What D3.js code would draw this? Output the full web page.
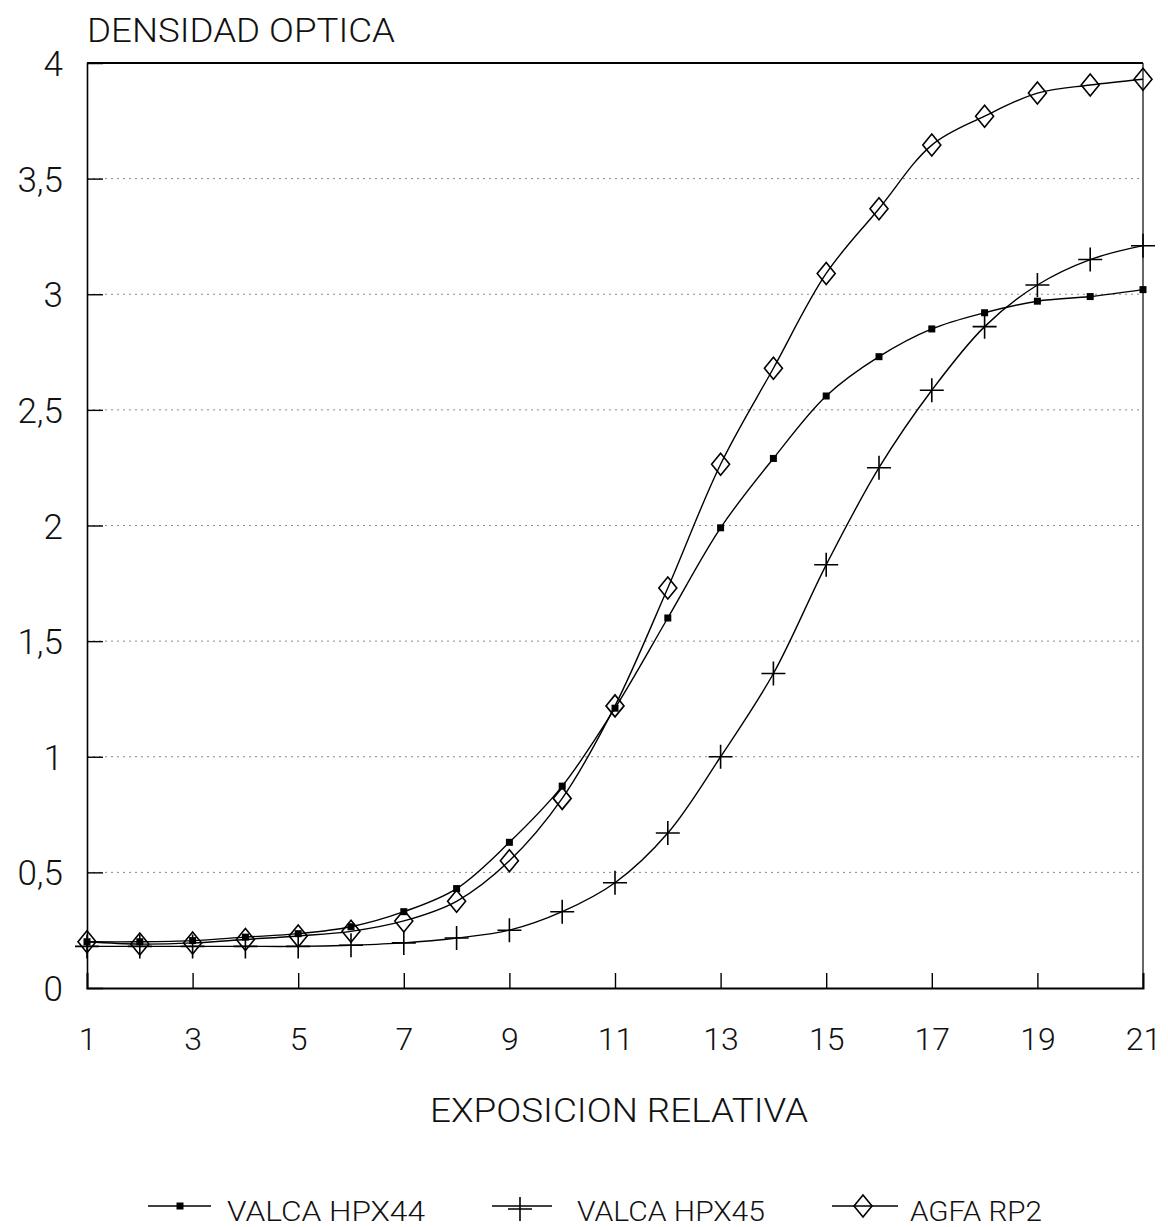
<!DOCTYPE html>
<html><head><meta charset="utf-8">
<script src="https://cdn.jsdelivr.net/npm/d3@7"></script>
<style>
html,body{margin:0;padding:0;background:#fff;}
svg text{font-family:Roboto,"Liberation Sans","DejaVu Sans",sans-serif;font-weight:300;fill:#111;}
</style></head>
<body><svg id="c" width="1168" height="1227"></svg>
<script>
const exposure = d3.range(1, 22);
const hpx44 = [0.20,0.20,0.205,0.22,0.235,0.265,0.33,0.43,0.63,0.873,1.21,1.60,1.99,2.29,2.56,2.73,2.85,2.92,2.97,2.99,3.02];
const hpx45 = [0.18,0.18,0.18,0.18,0.18,0.185,0.195,0.216,0.25,0.33,0.455,0.67,1.0,1.36,1.83,2.25,2.585,2.86,3.04,3.15,3.21];
const agfa  = [0.20,0.19,0.195,0.21,0.225,0.245,0.29,0.375,0.55,0.82,1.22,1.73,2.265,2.68,3.09,3.37,3.645,3.77,3.87,3.905,3.93];
const seriesNames = ["VALCA HPX44","VALCA HPX45","AGFA RP2"];
const xTicks = [1,3,5,7,9,11,13,15,17,19,21];
const yTicks = [0,0.5,1,1.5,2,2.5,3,3.5,4];
const yTickLabels = ["0","0,5","1","1,5","2","2,5","3","3,5","4"];
const yTitle = "DENSIDAD OPTICA";
const xTitle = "EXPOSICION RELATIVA";

const svg = d3.select("#c");
const L = 87, R = 1143, T = 63, B = 988;
const x = d3.scaleLinear().domain([1,21]).range([L,R]);
const y = d3.scaleLinear().domain([0,4]).range([B,T]);

// gridlines
svg.append("g").selectAll("line").data(yTicks.filter(v=>v>0&&v<4)).join("line")
  .attr("x1",L).attr("x2",R).attr("y1",d=>y(d)).attr("y2",d=>y(d))
  .attr("stroke","#888").attr("stroke-width",1).attr("stroke-dasharray","2,4");

// frame
svg.append("line").attr("x1",L).attr("x2",R).attr("y1",T).attr("y2",T).attr("stroke","#000").attr("stroke-width",2);
svg.append("line").attr("x1",R).attr("x2",R).attr("y1",T).attr("y2",B).attr("stroke","#000").attr("stroke-width",1.2);

// axes
const yAxis = d3.axisLeft(y).tickValues(yTicks).tickSize(-16).tickPadding(24)
  .tickFormat((d,i)=>yTickLabels[i]);
const gy = svg.append("g").attr("transform",`translate(${L},0)`).call(yAxis);
gy.select(".domain").attr("stroke","#000").attr("stroke-width",1.6);
gy.selectAll(".tick line").attr("stroke","#000").attr("stroke-width",1.4)
  .attr("display",d=>(d===0||d===4)?"none":null);
gy.selectAll(".tick text").attr("font-size",35).attr("fill","#111").attr("dy","0.36em")
  .attr("font-family","Roboto, sans-serif");

const xAxis = d3.axisBottom(x).tickValues(xTicks).tickSize(-15).tickPadding(39);
const gx = svg.append("g").attr("transform",`translate(0,${B})`).call(xAxis);
gx.select(".domain").attr("stroke","#000").attr("stroke-width",2);
gx.selectAll(".tick line").attr("stroke","#000").attr("stroke-width",1.4)
  .attr("display",d=>(d===1||d===21)?"none":null);
gx.selectAll(".tick text").attr("font-size",32).attr("fill","#111")
  .attr("font-family","Roboto, sans-serif");

// titles
svg.append("text").attr("x",L).attr("y",42).attr("font-size",34)
  .attr("textLength",308).attr("lengthAdjust","spacingAndGlyphs").text(yTitle);
svg.append("text").attr("x",619).attr("y",1122).attr("text-anchor","middle").attr("font-size",33)
  .attr("textLength",378).attr("lengthAdjust","spacingAndGlyphs").text(xTitle);

// lines
const data = [hpx44,hpx45,agfa];
const line = d3.line().x((d,i)=>x(exposure[i])).y(d=>y(d)).curve(d3.curveCatmullRom.alpha(0.5));
svg.append("g").selectAll("path").data(data).join("path")
  .attr("d",line).attr("fill","none").attr("stroke","#000").attr("stroke-width",1.4);

function drawMarker(g, type, cx, cy){
  if(type===0){
    g.append("rect").attr("x",cx-3.5).attr("y",cy-3.5).attr("width",7).attr("height",7).attr("fill","#000");
  } else if(type===1){
    g.append("path").attr("d",`M${cx-12},${cy}H${cx+12}M${cx},${cy-12}V${cy+12}`)
      .attr("stroke","#000").attr("stroke-width",1.6).attr("fill","none");
  } else {
    g.append("path").attr("d",`M${cx},${cy-11}L${cx+9},${cy}L${cx},${cy+11}L${cx-9},${cy}Z`)
      .attr("stroke","#000").attr("stroke-width",1.6).attr("fill","none");
  }
}
const mg = svg.append("g");
data.forEach((s,k)=>{
  s.forEach((v,i)=>drawMarker(mg,k,x(exposure[i]),y(v)));
});

// legend
const legendY = 1206;
const legendItems = [
  {x1:148,x2:211,mx:180,tx:227,w:198},
  {x1:492,x2:552,mx:520,tx:577,w:188},
  {x1:832,x2:898,mx:863,tx:910,w:132}];
const lg = svg.append("g");
legendItems.forEach((it,k)=>{
  lg.append("line").attr("x1",it.x1).attr("x2",it.x2).attr("y1",legendY).attr("y2",legendY)
    .attr("stroke","#000").attr("stroke-width",1.4);
  drawMarker(lg,k,it.mx,legendY + (k===1?3:0));
  lg.append("text").attr("x",it.tx).attr("y",1221).attr("font-size",27)
    .attr("textLength",it.w).attr("lengthAdjust","spacingAndGlyphs").text(seriesNames[k]);
});
</script></body></html>
